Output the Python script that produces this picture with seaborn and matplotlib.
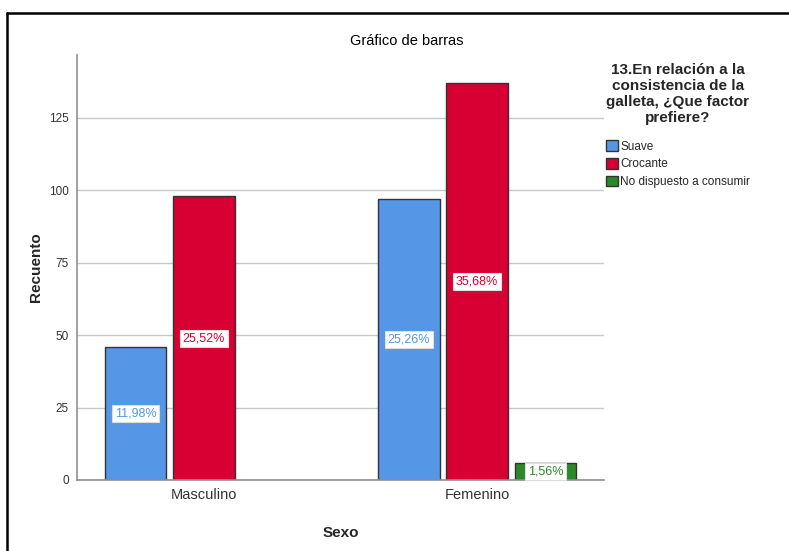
import pandas as pd
import seaborn as sns
import matplotlib.pyplot as plt
from matplotlib.lines import Line2D

sexo = ['Masculino', 'Masculino', 'Masculino', 'Femenino', 'Femenino', 'Femenino']
factor = ['Suave', 'Crocante', 'No dispuesto a consumir'] * 2
recuento = [46, 98, 0, 97, 137, 6]
porcentaje = ['11,98%', '25,52%', '', '25,26%', '35,68%', '1,56%']
colores = ['#5596E6', '#D60032', '#2A8A2A']

df = pd.DataFrame({'Sexo': sexo, 'Factor': factor, 'Recuento': recuento, 'Pct': porcentaje})

sns.set_style('white')
plt.rcParams['font.family'] = ['Liberation Sans', 'DejaVu Sans']

fig = plt.figure(figsize=(7.89, 5.51), dpi=100)
ax = fig.add_axes([0.0976, 0.1289, 0.668, 0.7713])

sns.barplot(data=df, x='Sexo', y='Recuento', hue='Factor', palette=colores,
            width=0.75, gap=0.1, edgecolor='#333333', linewidth=1.0,
            saturation=1, ax=ax, legend=False, errorbar=None)

ax.set_xlim(-0.465, 1.465)
ax.set_ylim(0, 146.7)
ax.set_yticks([0, 25, 50, 75, 100, 125])
ax.yaxis.grid(True, color='#C8C8C8', linewidth=1)
ax.set_axisbelow(True)
for s in ['top', 'right']:
    ax.spines[s].set_visible(False)
for s in ['left', 'bottom']:
    ax.spines[s].set_color('#909090')
    ax.spines[s].set_linewidth(1.2)
ax.tick_params(axis='y', length=0, pad=6, labelsize=8.5, labelcolor='#333333')
ax.tick_params(axis='x', length=0, pad=6, labelsize=10.5, labelcolor='#333333')
ax.set_xlabel('Sexo', fontsize=11, fontweight='bold', labelpad=17)
ax.set_ylabel('Recuento', fontsize=11, fontweight='bold', labelpad=4)

# etiquetas de porcentaje en el centro de cada barra
for bar_cont, col in zip(ax.containers, colores):
    for patch in bar_cont:
        h = patch.get_height()
        x = patch.get_x() + patch.get_width() / 2
        if h <= 0:
            patch.set_linewidth(0)
            continue
        txt = df[df['Recuento'] == h]['Pct'].iloc[0]
        ax.text(x, h / 2, txt, ha='center', va='center', fontsize=9, color=col,
                bbox=dict(boxstyle='square,pad=0.2', facecolor='white', edgecolor='#DDDDDD', linewidth=0.8))

fig.text(0.515, 0.925, 'Gráfico de barras', ha='center', va='center', fontsize=10.5, color='black')

handles = [plt.Rectangle((0, 0), 1, 1, facecolor=c, edgecolor='#333333') for c in colores]
leg = fig.legend(handles, ['Suave', 'Crocante', 'No dispuesto a consumir'],
                 title='13.En relación a la\nconsistencia de la\ngalleta, ¿Que factor\nprefiere?',
                 loc='upper left', bbox_to_anchor=(0.762, 0.895), frameon=False,
                 fontsize=8.5, handlelength=1.0, handleheight=1.0, handletextpad=0.2,
                 labelspacing=0.45, borderaxespad=0)
leg.get_title().set_fontweight('bold')
leg.get_title().set_fontsize(11)
leg.get_title().set_multialignment('center')
leg._legend_box.sep = 11

# marco exterior
fig.add_artist(Line2D([0.0095, 1.0], [0.9765, 0.9765], color='black', linewidth=1.8))
fig.add_artist(Line2D([0.0095, 0.0095], [0.0, 0.9765], color='black', linewidth=1.8))

fig.savefig('out.png', dpi=100)
